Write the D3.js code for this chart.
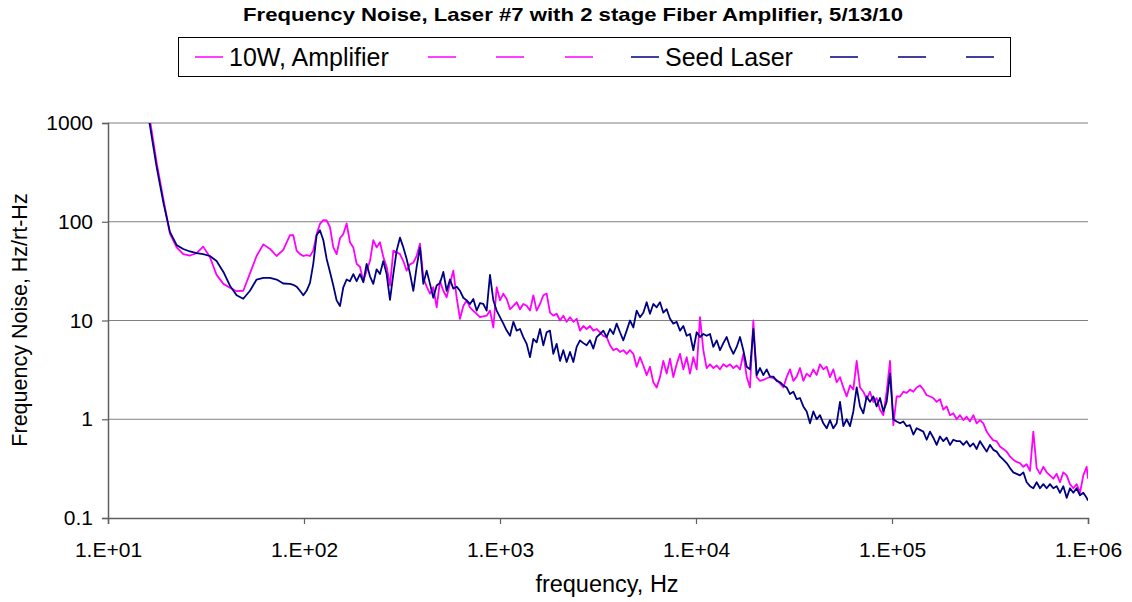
<!DOCTYPE html>
<html>
<head>
<meta charset="utf-8">
<script src="https://cdn.jsdelivr.net/npm/d3@7"></script>
<style>
  body { margin: 0; background: #fff; }
  text { font-family: "Liberation Sans", Arial, sans-serif; fill: #000; }
</style>
</head>
<body>
<svg id="chart" width="1132" height="602"></svg>
<script>
// sampled frequencies (Hz), shared by both traces
const frequency = [
  15.1, 16.4, 17.7, 19.2, 20.7, 22.4, 24.2, 26.2, 28.3, 30.6,
  33.1, 35.8, 38.8, 41.9, 45.3, 49.0, 53.0, 57.3, 62.0, 67.1,
  72.5, 78.4,
  84.8, 88.2, 91.7, 95.4, 99.2, 103.1, 107.3, 111.5, 116.0, 120.6,
  125.5, 130.5, 135.7, 141.1, 146.7, 152.6, 158.7, 165.0, 171.6, 178.5,
  185.6, 193.0, 200.7, 208.7, 217.1, 225.7, 234.7, 244.1, 253.9, 264.0,
  274.6, 285.6, 297.0, 308.8, 321.2, 334.0, 347.3, 361.2, 375.6, 390.6,
  406.3, 422.5, 439.4, 456.9, 475.2, 494.2, 513.9, 534.4, 555.8, 578.0,
  601.0, 625.0, 650.0, 675.9, 702.9, 731.0, 760.2, 790.5, 822.1, 854.9,
  889.2, 924.7, 961.6, 1000, 1040, 1082, 1125, 1170, 1216, 1265,
  1315, 1368, 1423, 1479, 1538, 1600, 1664, 1730, 1799, 1871,
  1946, 2024, 2104, 2188, 2276, 2367, 2461, 2559, 2662, 2768,
  2879, 2994, 3113, 3237, 3367, 3501, 3641, 3786, 3937, 4095,
  4258, 4428, 4605, 4789, 4980, 5179, 5386, 5601, 5824, 6057,
  6300, 6552, 6813, 7085, 7368, 7662, 7968, 8287, 8617, 8962,
  9319, 9691, 10080, 10480, 10900, 11330, 11790, 12260, 12750, 13260,
  13790, 14340, 14910, 15510, 16130, 16770, 17440, 18140, 18860, 19610,
  20400, 21210, 22060, 22940, 23850, 24810, 25800, 26830, 27900, 29010,
  30170, 31380, 32630, 33930, 35290, 36700, 38160, 39690, 41270, 42920,
  44630, 46420, 48270, 50200, 52200, 54290, 56450, 58710, 61050, 63490,
  66030, 68670, 71410, 74260, 77220, 80310, 83510, 86850, 90320, 93920,
  97680, 101600, 105600, 109900, 114200, 118800, 123500, 128500, 133600, 138900,
  144500, 150300, 156300, 162500, 169000, 175700, 182800, 190000, 197600, 205500,
  213800, 222300, 231200, 240400, 250000, 260000, 270400, 281200, 292400, 304100,
  316200, 328900, 342000, 355600, 369800, 384600, 400000, 415900, 432500, 449800,
  467800, 486500, 505900, 526100, 547100, 569000, 591700, 615300, 639900, 665400,
  692000, 719700, 748400, 778300, 809400, 841700, 875300, 910300, 946600, 984400,
  1000000
];

// 10W, Amplifier (Hz/rt-Hz)
const amplifier = [
  2500, 1050, 400, 165, 76, 55, 47, 45.5, 48, 56,
  44, 29, 23.5, 21.5, 19.8, 20, 30, 45, 59, 53,
  45, 52,
  73, 73, 51, 47, 45, 46, 45, 51, 75, 95,
  104, 103, 88, 55, 47, 68, 75, 96, 62, 55,
  37.5, 35, 25, 32, 40, 65, 55, 62, 44, 35,
  22.6, 51, 49, 47, 40, 32, 37, 38.5, 45, 60,
  27, 22, 18.7, 21.7, 13.6, 25, 20, 17.2, 24, 32,
  17, 10.4, 14, 16, 13.6, 12.5, 11.7, 10.8, 11, 11.2,
  12.6, 8.5, 21.7, 16, 18.7, 16.5, 13, 14.1, 15.3, 13,
  14.7, 14.1, 12.6, 18, 12.6, 14.7, 18, 18.7, 12, 11.2,
  11.7, 10, 11.2, 9.7, 10.8, 9.7, 10.4, 7.9, 8.8, 8.2,
  8.8, 7.9, 8.2, 7.6, 7.0, 6.8, 5.6, 5.0, 5.2, 4.8,
  5.0, 4.6, 5.0, 4.6, 3.4, 4.25, 3.5, 2.8, 3.4, 2.37,
  2.1, 2.67, 3.9, 2.9, 4.1, 2.67, 3.6, 4.6, 3.2, 4.25,
  2.9, 4.25, 3.2, 10.8, 5.0, 3.3, 3.6, 3.3, 3.5, 3.2,
  3.6, 3.4, 3.6, 3.3, 3.5, 3.2, 4.6, 2.7, 2.1, 10,
  2.67, 2.45, 2.5, 2.6, 2.67, 2.6, 2.5, 2.3, 2.1, 2.67,
  3.2, 2.45, 2.7, 3.3, 2.45, 2.9, 2.7, 3.2, 2.8, 3.6,
  3.2, 3.4, 2.67, 3.2, 2.37, 2.67, 2.1, 1.7, 2.2, 2.0,
  3.9, 2.1, 1.9, 1.6, 1.9, 1.5, 1.64, 1.25, 1.1, 1.9,
  3.9, 0.87, 1.7, 1.7, 1.9, 1.85, 2.0, 1.9, 2.1, 2.2,
  2.0, 1.75, 1.7, 1.64, 1.5, 1.6, 1.25, 1.35, 1.1, 1.15,
  1.0, 1.1, 0.98, 1.06, 0.95, 1.1, 0.91, 0.98, 0.91, 0.75,
  0.67, 0.61, 0.6, 0.53, 0.5, 0.47, 0.42, 0.39, 0.37, 0.36,
  0.33, 0.35, 0.3, 0.75, 0.32, 0.28, 0.33, 0.29, 0.27, 0.25,
  0.28, 0.23, 0.29, 0.27, 0.22, 0.2, 0.22, 0.18, 0.27, 0.33,
  0.25
];

// Seed Laser (Hz/rt-Hz)
const seedLaser = [
  2300, 920, 360, 154, 79, 58, 53, 50, 48, 47,
  45, 40, 31, 22.5, 18, 16.6, 20, 26, 27, 27,
  26, 23.7,
  23.5, 23, 22, 20, 18, 20, 24, 37.5, 73, 82,
  65, 42, 31, 22.6, 16, 14, 21.7, 26, 25, 29.5,
  25, 29.5, 24.4, 37.5, 28, 23.5, 33, 29.5, 40, 29.5,
  16.2, 29.5, 51, 69, 55, 42, 30, 20, 35, 55,
  23.5, 32, 23.5, 17, 22.6, 24, 31, 20, 26, 21,
  22, 20, 17, 16, 14.7, 16.5, 12.6, 15, 14.7, 12.6,
  29, 16, 12.6, 10.8, 9.3, 7.9, 7.0, 9.7, 7.9, 8.2,
  6.8, 5.8, 4.25, 6.5, 6.0, 8.2, 5.6, 7.6, 7.9, 4.6,
  5.8, 3.9, 5.0, 3.8, 4.8, 3.8, 5.4, 6.3, 5.9, 5.6,
  6.3, 5.2, 6.8, 7.3, 7.9, 6.8, 8.2, 7.3, 9.3, 7.6,
  6.3, 7.9, 10, 8.5, 12.6, 10.8, 12, 15.3, 11.7, 14.7,
  13.6, 15.3, 12, 13, 10.4, 9.3, 9.7, 7.9, 8.8, 7.0,
  7.3, 5.0, 7.6, 6.8, 7.3, 7.0, 7.3, 5.4, 6.3, 5.0,
  5.9, 6.8, 5.4, 4.6, 5.4, 6.8, 5.0, 3.4, 3.2, 8.2,
  2.8, 3.3, 2.8, 3.2, 2.7, 2.7, 2.45, 2.37, 2.2, 2.1,
  1.8, 1.9, 1.6, 1.64, 1.35, 1.2, 0.91, 1.2, 1.0, 1.1,
  0.91, 0.81, 0.98, 0.81, 0.91, 1.5, 0.85, 1.0, 0.85, 1.2,
  2.1, 1.35, 1.15, 1.7, 1.5, 1.7, 1.35, 1.64, 1.2, 1.5,
  2.9, 1.0, 0.95, 0.91, 0.95, 0.85, 0.87, 0.7, 0.81, 0.78,
  0.75, 0.62, 0.75, 0.65, 0.55, 0.67, 0.6, 0.65, 0.55, 0.62,
  0.6, 0.6, 0.55, 0.6, 0.53, 0.57, 0.5, 0.6, 0.53, 0.47,
  0.55, 0.49, 0.47, 0.42, 0.39, 0.36, 0.32, 0.29, 0.28, 0.27,
  0.29, 0.23, 0.21, 0.2, 0.23, 0.2, 0.22, 0.2, 0.22, 0.2,
  0.21, 0.18, 0.21, 0.16, 0.2, 0.18, 0.2, 0.17, 0.18, 0.16,
  0.15
];

const xTicks = [1e1, 1e2, 1e3, 1e4, 1e5, 1e6];
const xTickLabels = ["1.E+01", "1.E+02", "1.E+03", "1.E+04", "1.E+05", "1.E+06"];
const yTicks = [0.1, 1, 10, 100, 1000];
const yTickLabels = ["0.1", "1", "10", "100", "1000"];

const seriesNames = ["10W, Amplifier", "Seed Laser"];
const seriesColors = ["#ff00ff", "#000080"];

const svg = d3.select("#chart");
const plot = {left: 108, right: 1088, top: 123, bottom: 518};

const x = d3.scaleLog().domain([10, 1e6]).range([plot.left, plot.right]);
const y = d3.scaleLog().domain([0.1, 1000]).range([plot.bottom, plot.top]);

// title
svg.append("text")
  .attr("x", 573).attr("y", 21)
  .attr("text-anchor", "middle")
  .attr("textLength", 660).attr("lengthAdjust", "spacingAndGlyphs")
  .style("font-size", "19px").style("font-weight", "bold")
  .text("Frequency Noise, Laser #7 with 2 stage Fiber Amplifier, 5/13/10");

// gridlines
svg.append("g")
  .selectAll("line")
  .data(yTicks.slice(1))
  .enter()
  .append("line")
  .attr("x1", plot.left).attr("x2", plot.right)
  .attr("y1", d => y(d)).attr("y2", d => y(d))
  .attr("stroke", "#808080").attr("stroke-width", 1.2);

// axes
const xAxis = d3.axisBottom(x)
  .tickValues(xTicks)
  .tickSize(6)
  .tickFormat((d, i) => xTickLabels[i]);
const yAxis = d3.axisLeft(y)
  .tickValues(yTicks)
  .tickSize(6)
  .tickFormat((d, i) => yTickLabels[i]);

const gx = svg.append("g").attr("transform", `translate(0,${plot.bottom})`).call(xAxis);
const gy = svg.append("g").attr("transform", `translate(${plot.left},0)`).call(yAxis);

[gx, gy].forEach(g => {
  g.select(".domain").attr("stroke", "#606060").attr("stroke-width", 1.5);
  g.selectAll(".tick line").attr("stroke", "#606060").attr("stroke-width", 1.2);
  g.selectAll(".tick text")
    .style("font-family", '"Liberation Sans", Arial, sans-serif')
    .style("font-size", "21px").attr("fill", "#000");
});
gx.selectAll(".tick text").attr("y", 24);
gy.selectAll(".tick text").attr("x", -15);

// axis titles
svg.append("text")
  .attr("x", 607).attr("y", 592)
  .attr("text-anchor", "middle")
  .style("font-size", "23.5px")
  .text("frequency, Hz");

svg.append("text")
  .attr("transform", "translate(27,320) rotate(-90)")
  .attr("text-anchor", "middle")
  .style("font-size", "21.5px")
  .text("Frequency Noise, Hz/rt-Hz");

// traces
svg.append("clipPath").attr("id", "plot-clip")
  .append("rect")
  .attr("x", plot.left).attr("y", plot.top)
  .attr("width", plot.right - plot.left).attr("height", plot.bottom - plot.top);

const line = d3.line()
  .x(d => x(d[0]))
  .y(d => y(d[1]));

const traces = [amplifier, seedLaser];
traces.forEach((vals, i) => {
  const pts = frequency.map((f, j) => [f, vals[j]]).filter(p => p[1] !== undefined);
  svg.append("path")
    .datum(pts)
    .attr("clip-path", "url(#plot-clip)")
    .attr("fill", "none")
    .attr("stroke", seriesColors[i])
    .attr("stroke-width", 1.8)
    .attr("stroke-linejoin", "round")
    .attr("d", line);
});

// legend
const legend = svg.append("g");
legend.append("rect")
  .attr("x", 178.5).attr("y", 37.5)
  .attr("width", 832).attr("height", 39)
  .attr("fill", "#fff").attr("stroke", "#000").attr("stroke-width", 1);

const legendSamples = [
  {color: 0, x: 195, label: seriesNames[0]},
  {color: 0, x: 428}, {color: 0, x: 496}, {color: 0, x: 565},
  {color: 1, x: 631, label: seriesNames[1]},
  {color: 1, x: 830}, {color: 1, x: 898}, {color: 1, x: 966}
];
legendSamples.forEach(s => {
  legend.append("line")
    .attr("x1", s.x).attr("x2", s.x + 28)
    .attr("y1", 57).attr("y2", 57)
    .attr("stroke", seriesColors[s.color]).attr("stroke-width", 1.5);
  if (s.label) {
    legend.append("text")
      .attr("x", s.x + 34).attr("y", 66)
      .style("font-size", "25px")
      .text(s.label);
  }
});
</script>
</body>
</html>
